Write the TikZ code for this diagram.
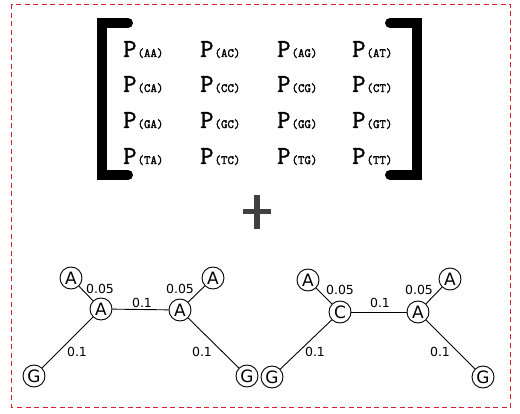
\documentclass[tikz,border=0pt]{standalone}
\usepackage{fontspec}
\setmainfont{DejaVu Sans}
\newfontfamily\monofam[FakeBold=1.3]{Latin Modern Mono}
\newfontfamily\monosub[FakeBold=2.2]{Latin Modern Mono}
\definecolor{framered}{RGB}{214,30,45}
\definecolor{plusgray}{RGB}{64,64,64}
\tikzset{
  frame/.style={draw=framered, line width=1pt, dash pattern=on 5pt off 3.5pt},
  bracket/.style={line width=10pt, line cap=round, line join=miter},
  entry/.style={anchor=base west, inner sep=0pt},
  base/.style={draw, circle, line width=0.9pt, minimum size=22pt, inner sep=0pt,
    font=\fontsize{17}{17}\selectfont},
  branch/.style={line width=0.9pt},
  blen/.style={inner sep=0pt, font=\fontsize{12.5}{12.5}\selectfont},
}
% matrix entry P_(xy)
\newcommand\pentry[1]{{\monofam\fontsize{26}{26}\selectfont P}\hspace{1pt}{\monosub\fontsize{12.5}{12.5}\selectfont (#1)}}
\begin{document}
\begin{tikzpicture}[x=1pt, y=-1pt]
\useasboundingbox (0,0) rectangle (520,414);
\draw[frame] (11.5,4.5) rectangle (510.5,407);

% substitution matrix
\draw[bracket] (128,23) -- (102,23) -- (102,175) -- (128,175);
\draw[bracket] (390,23) -- (417,23) -- (417,175) -- (390,175);
\foreach \r/\y in {A/57, C/92, G/128, T/164}{
  \foreach \c/\x in {A/123, C/200, G/277, T/352}{
    \node[entry] (p\r\c) at (\x,\y) {\pentry{\r\c}};
  }
}

% plus sign
\fill[plusgray] (242.5,209) rectangle (270.5,214.5);
\fill[plusgray] (254,195) rectangle (259.5,229.5);

% first tree
\node[base] (t1a) at (71,278) {A};
\node[base] (t1b) at (101,309) {A};
\node[base] (t1c) at (180,310) {A};
\node[base] (t1d) at (213,278) {A};
\node[base] (t1e) at (34,376) {G};
\node[base] (t1f) at (247,376) {G};
\draw[branch] (t1a) -- (t1b);
\draw[branch] (t1b) -- (t1c);
\draw[branch] (t1c) -- (t1d);
\draw[branch] (t1b) -- (t1e);
\draw[branch] (t1c) -- (t1f);
\node[blen] (l1a) at (100,289) {0.05};
\node[blen] (l1b) at (142,303) {0.1};
\node[blen] (l1c) at (180,289) {0.05};
\node[blen] (l1d) at (77,352) {0.1};
\node[blen] (l1e) at (202,352) {0.1};

% second tree
\node[base] (t2a) at (308,280) {A};
\node[base] (t2b) at (340,312) {C};
\node[base] (t2c) at (418,312) {A};
\node[base] (t2d) at (450,279) {A};
\node[base] (t2e) at (272,377) {G};
\node[base] (t2f) at (483,377) {G};
\draw[branch] (t2a) -- (t2b);
\draw[branch] (t2b) -- (t2c);
\draw[branch] (t2c) -- (t2d);
\draw[branch] (t2b) -- (t2e);
\draw[branch] (t2c) -- (t2f);
\node[blen] (l2a) at (340,290) {0.05};
\node[blen] (l2b) at (380,303) {0.1};
\node[blen] (l2c) at (419,290) {0.05};
\node[blen] (l2d) at (315,352) {0.1};
\node[blen] (l2e) at (440,352) {0.1};
\end{tikzpicture}
\end{document}
